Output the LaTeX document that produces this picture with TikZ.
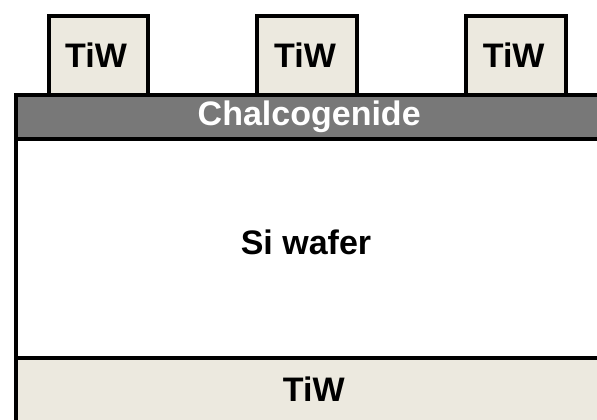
\documentclass[tikz,border=0pt]{standalone}
\usepackage{fontspec}
\setmainfont{Liberation Sans}
\definecolor{tiw}{HTML}{ECE9DF}
\definecolor{chal}{HTML}{787878}
\begin{document}
\begin{tikzpicture}[x=1pt,y=-1pt,
  layer/.style={draw=black, line width=4pt, rectangle, anchor=north west, inner sep=0pt, outer sep=0pt},
  lbl/.style={font=\fontsize{34}{40}\selectfont\bfseries, inner sep=0pt, anchor=base}]
\useasboundingbox (0,0) rectangle (597,420);
\clip (0,0) rectangle (597,420);
\node[layer, fill=tiw, minimum width=604pt, minimum height=80pt] (tiwbot) at (16,358) {};
\node[layer, fill=white, minimum width=604pt, minimum height=219.2pt] (wafer) at (16,138.8) {};
\node[layer, fill=tiw, minimum width=99.3pt, minimum height=79.3pt] (p1) at (48.7,16) {};
\node[layer, fill=tiw, minimum width=99.7pt, minimum height=79.3pt] (p2) at (257,16) {};
\node[layer, fill=tiw, minimum width=99.7pt, minimum height=79.3pt] (p3) at (465.8,16) {};
\node[layer, fill=chal, minimum width=604pt, minimum height=43.5pt] (chalc) at (16,95.3) {};
\node[lbl] (t1) at (96,67.3) {TiW};
\node[lbl] (t2) at (305,67.3) {TiW};
\node[lbl] (t3) at (513.7,67.3) {TiW};
\node[lbl, text=white] (tc) at (309.2,125.7) {Chalcogenide};
\node[lbl] (tw) at (306,254.3) {Si wafer};
\node[lbl] (tb) at (313.8,401.7) {TiW};
\end{tikzpicture}
\end{document}
